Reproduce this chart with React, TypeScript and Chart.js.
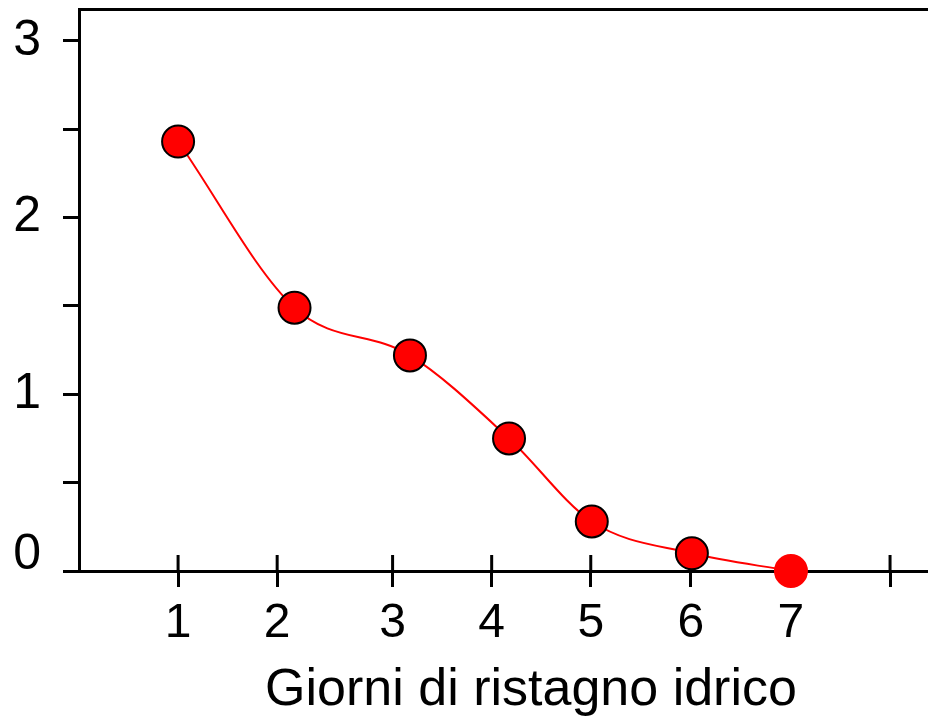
import React, { useEffect, useRef } from 'react';
import { Chart, registerables } from 'chart.js';

Chart.register(...registerables);

// Data
const xValues = [1, 2.14, 3.27, 4.24, 5.05, 6.03, 7];
const yValues = [2.43, 1.49, 1.22, 0.75, 0.28, 0.1, 0];
const xTickValues = [1, 1.97, 3.1, 4.07, 5.04, 6.02, 7, 7.97];
const xTickLabels = ['1', '2', '3', '4', '5', '6', '7', ''];
const yTickValues = [0, 0.5, 1, 1.5, 2, 2.5, 3];
const yTickLabels = ['0', '', '1', '', '2', '', '3'];
const xTitle = 'Giorni di ristagno idrico';

const FONT = "'Liberation Sans', Arial, Helvetica, sans-serif";

const innerTicks = {
  id: 'innerTicks',
  beforeDatasetsDraw(chart: any) {
    const s = chart.scales.x;
    const { ctx, chartArea } = chart;
    ctx.save();
    ctx.strokeStyle = '#000';
    ctx.lineWidth = 3;
    s.ticks.forEach((t: any) => {
      const px = s.getPixelForValue(t.value);
      ctx.beginPath();
      ctx.moveTo(px, chartArea.bottom);
      ctx.lineTo(px, chartArea.bottom - 16);
      ctx.stroke();
    });
    ctx.restore();
  },
};

export default function App() {
  const ref = useRef<HTMLCanvasElement>(null);

  useEffect(() => {
    if (!ref.current) return;
    const pts = xValues.map((x, i) => ({ x, y: yValues[i] }));
    const chart = new Chart(ref.current, {
      type: 'scatter',
      data: {
        datasets: [
          {
            data: pts,
            showLine: true,
            borderColor: '#ff0000',
            borderWidth: 2,
            backgroundColor: '#ff0000',
            pointBackgroundColor: '#ff0000',
            pointBorderColor: pts.map((_, i) => (i === pts.length - 1 ? '#ff0000' : '#000000')),
            pointBorderWidth: 2,
            pointRadius: 16,
            pointHoverRadius: 16,
            cubicInterpolationMode: 'monotone',
            clip: false,
          } as any,
        ],
      },
      options: {
        responsive: false,
        animation: false,
        devicePixelRatio: 1,
        layout: { padding: 0, autoPadding: false },
        plugins: { legend: { display: false }, tooltip: { enabled: false } },
        scales: {
          x: {
            type: 'linear',
            position: 'bottom',
            min: 0.03,
            max: 8.88,
            afterBuildTicks: (s: any) => {
              s.ticks = xTickValues.map((v) => ({ value: v }));
            },
            afterFit: (s: any) => {
              s.height = 147;
              s.paddingLeft = 0;
              s.paddingRight = 0;
            },
            ticks: {
              autoSkip: false,
              maxRotation: 0,
              callback: (_v: any, i: number) => xTickLabels[i],
              color: '#000',
              font: { family: FONT, size: 48 },
              padding: 8,
            },
            grid: {
              drawOnChartArea: false,
              drawTicks: true,
              tickLength: 16,
              tickWidth: 3,
              tickColor: '#000',
            },
            border: { display: true, color: '#000', width: 3 },
            title: {
              display: true,
              text: xTitle,
              color: '#000',
              font: { family: FONT, size: 52, lineHeight: 1.0 },
              padding: { top: 0, bottom: 1 },
            },
          },
          x2: {
            type: 'linear',
            position: 'top',
            min: 0,
            max: 1,
            afterFit: (s: any) => {
              s.height = 9;
              s.paddingLeft = 0;
              s.paddingRight = 0;
            },
            ticks: { display: false },
            grid: { display: true, drawOnChartArea: false, drawTicks: false },
            border: { display: true, color: '#000', width: 3 },
          },
          y: {
            type: 'linear',
            position: 'left',
            min: 0,
            max: 3.18,
            afterBuildTicks: (s: any) => {
              s.ticks = yTickValues.map((v) => ({ value: v }));
            },
            afterFit: (s: any) => {
              s.width = 79;
              s.paddingTop = 0;
              s.paddingBottom = 0;
            },
            ticks: {
              autoSkip: false,
              // the "0" label sits just above the axis line in the reference
              callback: (_v: any, i: number) => (i === 0 ? [yTickLabels[i], ''] : yTickLabels[i]),
              color: '#000',
              font: (ctx: any) => ({
                family: FONT,
                size: 50,
                lineHeight: ctx.index === 0 ? 0.64 : 1.2,
              }),
              padding: 22,
            },
            grid: {
              drawOnChartArea: false,
              drawTicks: true,
              tickLength: 16,
              tickWidth: 3,
              tickColor: '#000',
            },
            border: { display: true, color: '#000', width: 3 },
          },
        },
      } as any,
      plugins: [innerTicks],
    });
    return () => chart.destroy();
  }, []);

  return (
    <div
      style={{
        position: 'absolute',
        left: 0,
        top: 0,
        width: 928,
        height: 718,
        overflow: 'hidden',
        background: '#fff',
      }}
    >
      <canvas ref={ref} width={983} height={718} style={{ display: 'block' }} />
    </div>
  );
}
